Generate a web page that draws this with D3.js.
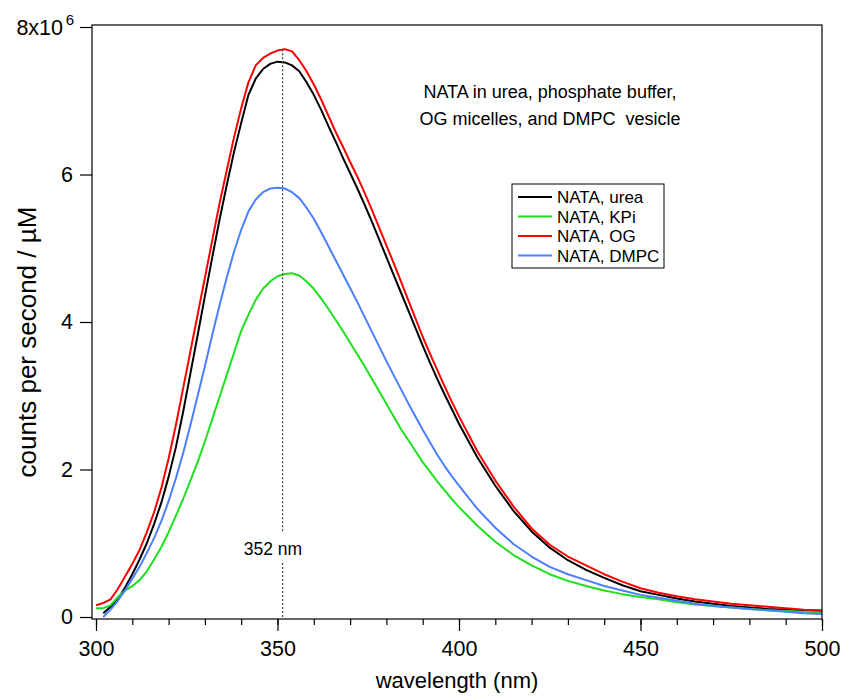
<!DOCTYPE html>
<html><head><meta charset="utf-8">
<script src="https://cdn.jsdelivr.net/npm/d3@7"></script>
<style>
html,body{margin:0;padding:0;background:#fff;}
text{font-family:"Liberation Sans",Arial,sans-serif;fill:#000;}
</style></head>
<body><svg id="chart" width="845" height="696"></svg>
<script>
// ---- data (values in units of 1e6 counts/s/µM) ----
const wavelengths = [300,302,304,306,308,310,312,314,316,318,320,322,324,326,328,330,332,334,336,338,340,342,344,346,348,350,352,354,356,358,360,362,364,366,368,370,372,374,376,378,380,382,384,386,388,390,392,394,396,398,400,405,410,415,420,425,430,435,440,445,450,455,460,465,470,475,480,485,490,495,500];
const urea = [null,0.05,0.14,0.24,0.40,0.58,0.78,1.00,1.26,1.55,1.90,2.30,2.78,3.30,3.82,4.35,4.87,5.38,5.85,6.30,6.70,7.08,7.30,7.43,7.50,7.53,7.52,7.48,7.40,7.25,7.08,6.88,6.66,6.45,6.23,6.02,5.81,5.59,5.36,5.12,4.88,4.64,4.40,4.16,3.92,3.68,3.45,3.23,3.02,2.82,2.62,2.17,1.78,1.44,1.16,0.94,0.77,0.64,0.53,0.43,0.35,0.30,0.25,0.21,0.18,0.15,0.13,0.11,0.10,0.08,0.07];
const kpi = [0.12,0.12,0.16,0.27,0.36,0.42,0.50,0.62,0.78,0.95,1.15,1.37,1.60,1.85,2.10,2.38,2.68,2.98,3.28,3.58,3.88,4.10,4.30,4.45,4.55,4.62,4.65,4.66,4.63,4.55,4.45,4.32,4.18,4.03,3.88,3.72,3.56,3.40,3.23,3.06,2.89,2.72,2.55,2.40,2.25,2.10,1.97,1.84,1.72,1.60,1.49,1.24,1.02,0.84,0.70,0.58,0.49,0.42,0.36,0.31,0.27,0.24,0.20,0.17,0.15,0.13,0.11,0.09,0.08,0.07,0.06];
const og = [0.16,0.19,0.24,0.38,0.55,0.72,0.91,1.15,1.42,1.75,2.15,2.60,3.10,3.60,4.10,4.60,5.10,5.60,6.05,6.50,6.90,7.25,7.48,7.58,7.64,7.68,7.70,7.67,7.55,7.40,7.22,7.02,6.80,6.58,6.38,6.17,5.97,5.75,5.52,5.28,5.04,4.80,4.55,4.30,4.05,3.80,3.57,3.35,3.13,2.92,2.72,2.25,1.85,1.50,1.20,0.98,0.82,0.70,0.58,0.48,0.39,0.33,0.28,0.24,0.21,0.18,0.16,0.14,0.12,0.10,0.09];
const dmpc = [null,0.00,0.10,0.22,0.36,0.52,0.68,0.87,1.07,1.30,1.57,1.88,2.22,2.60,3.00,3.40,3.82,4.22,4.60,4.95,5.25,5.50,5.66,5.76,5.81,5.82,5.81,5.76,5.68,5.55,5.40,5.22,5.03,4.84,4.65,4.46,4.27,4.07,3.87,3.67,3.47,3.28,3.09,2.90,2.72,2.54,2.37,2.20,2.05,1.91,1.78,1.47,1.21,0.99,0.82,0.68,0.58,0.50,0.42,0.36,0.30,0.26,0.22,0.18,0.15,0.13,0.11,0.09,0.07,0.05,0.04];
const seriesNames = ["NATA, urea","NATA, KPi","NATA, OG","NATA, DMPC"];
const seriesColors = ["#000000","#1ee01e","#ff0000","#4a80ff"];
const seriesValues = [urea,kpi,og,dmpc];
const xMajorTicks = [300,350,400,450,500];
const yTicks = [0,2,4,6,8];
const peakWavelength = 351.4;
const peakLabel = "352 nm";
const titleLines = ["NATA in urea, phosphate buffer,","OG micelles, and DMPC  vesicle"];
const xLabel = "wavelength (nm)";
const yLabel = "counts per second / µM";

// ---- layout ----
const svg = d3.select("#chart");
const frame = {left:92, top:25, right:822, bottom:619};
const x = d3.scaleLinear().domain([300,500]).range([96,822]);
const y = d3.scaleLinear().domain([0,8]).range([617,27]);

// data lines
const line = d3.line().defined(d=>d[1]!==null).x(d=>x(d[0])).y(d=>y(d[1]));
seriesValues.forEach((vals,i)=>{
  svg.append("path")
    .attr("d", line(wavelengths.map((w,j)=>[w,vals[j]])))
    .attr("fill","none").attr("stroke",seriesColors[i]).attr("stroke-width",2)
    .attr("stroke-linejoin","round");
});

// frame
svg.append("rect").attr("x",frame.left).attr("y",frame.top)
  .attr("width",frame.right-frame.left).attr("height",frame.bottom-frame.top)
  .attr("fill","none").attr("stroke","#000").attr("stroke-width",1.2);

// x axis minor
const xMinor = d3.axisBottom(x).tickValues(d3.range(300,501,10)).tickSize(6).tickFormat("");
svg.append("g").attr("transform",`translate(0,${frame.bottom})`).call(xMinor)
  .call(g=>g.select(".domain").remove());
const xAxis = d3.axisBottom(x).tickValues(xMajorTicks).tickSize(12).tickPadding(10).tickFormat(d3.format("d"));
svg.append("g").attr("transform",`translate(0,${frame.bottom})`).call(xAxis)
  .call(g=>g.select(".domain").remove())
  .call(g=>g.selectAll("text").style("font-size","21.5px").attr("font-family",null));

// y axis
const yAxis = d3.axisLeft(y).tickValues(yTicks).tickSize(12).tickPadding(7).tickFormat(d=>d===8?"":String(d));
const gy = svg.append("g").attr("transform",`translate(${frame.left},0)`).call(yAxis)
  .call(g=>g.select(".domain").remove());
gy.selectAll("text").style("font-size","21.5px").attr("font-family",null);
gy.selectAll(".tick").filter(d=>d===8).select("text")
  .attr("x",-29).attr("dy","0.34em")
  .call(t=>{t.append("tspan").text("8x10");})
  .each(function(){
    d3.select(this.parentNode).append("text")
      .attr("x",-18).attr("y",-3).attr("text-anchor","end")
      .style("font-size","15px").text("6");
  });
gy.selectAll(".tick line").attr("stroke","#000");
svg.selectAll(".tick line").attr("stroke-width",1.2);

// axis labels
svg.append("text").attr("x",457).attr("y",688).attr("text-anchor","middle")
  .style("font-size","22px").text(xLabel);
svg.append("text").attr("transform","translate(36,342) rotate(-90)").attr("text-anchor","middle")
  .style("font-size","26px").text(yLabel);

// title
titleLines.forEach((t,i)=>{
  svg.append("text").attr("x",550).attr("y",98+i*27).attr("text-anchor","middle")
    .style("font-size","18px").style("white-space","pre").text(t);
});

// peak marker
const px = x(peakWavelength);
svg.append("line").attr("x1",px).attr("x2",px).attr("y1",y(7.7)).attr("y2",533)
  .attr("stroke","#444").attr("stroke-width",1.3).attr("stroke-dasharray","2,2");
svg.append("line").attr("x1",px).attr("x2",px).attr("y1",563).attr("y2",y(0))
  .attr("stroke","#444").attr("stroke-width",1.3).attr("stroke-dasharray","2,2");
svg.append("text").attr("x",273).attr("y",555).attr("text-anchor","middle")
  .style("font-size","17.5px").text(peakLabel);

// legend
const lg = svg.append("g");
lg.append("rect").attr("x",512).attr("y",184).attr("width",152).attr("height",84)
  .attr("fill","#fff").attr("stroke","#000").attr("stroke-width",1);
seriesNames.forEach((n,i)=>{
  const ry = 197 + i*19.5;
  lg.append("line").attr("x1",518).attr("x2",552).attr("y1",ry).attr("y2",ry)
    .attr("stroke",seriesColors[i]).attr("stroke-width",2);
  lg.append("text").attr("x",557).attr("y",ry+6).style("font-size","17px").text(n);
});
</script></body></html>
